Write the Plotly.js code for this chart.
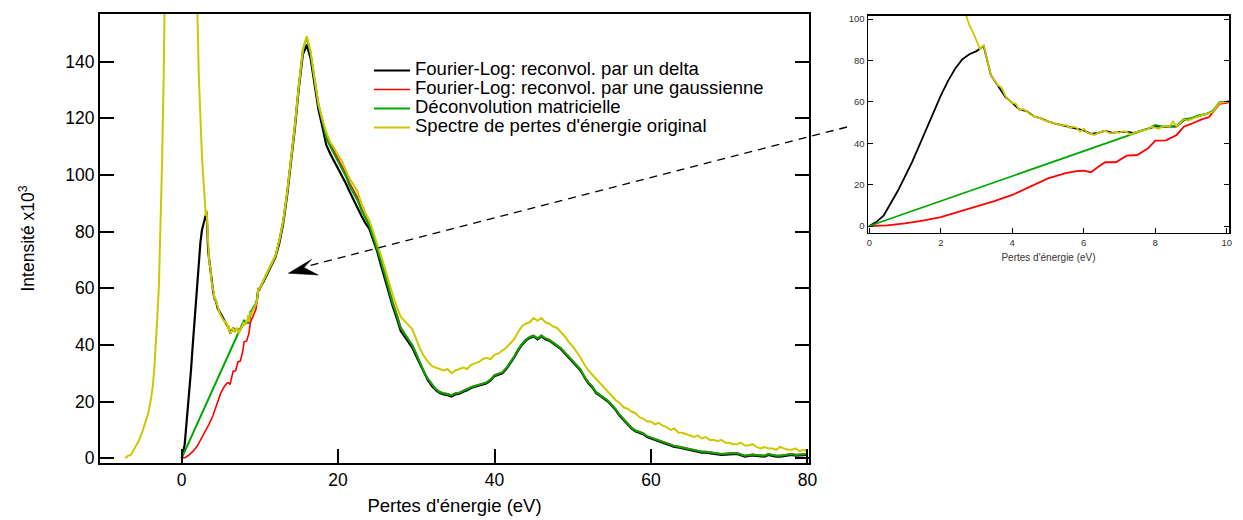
<!DOCTYPE html>
<html>
<head>
<meta charset="utf-8">
<script src="https://cdn.plot.ly/plotly-3.0.1.min.js"></script>
<style>
  html, body { margin: 0; padding: 0; background: #fff; }
  #chart { width: 1243px; height: 520px; }
</style>
</head>
<body>
<div id="chart"></div>
<script>
// ---------- data (energy loss in eV, intensity x10^3) ----------
const seriesNames = [
  "Fourier-Log: reconvol. par un delta",
  "Fourier-Log: reconvol. par une gaussienne",
  "Déconvolution matricielle",
  "Spectre de pertes d'énergie original"
];

// shared energy grid for 10.5 – 80 eV
const tailE = [10.5,11,11.5,12,12.5,13,13.5,14,14.5,15,
  15.5,16,16.5,17,17.5,18,18.5,19,19.5,20,
  20.5,21,21.5,22,22.5,23,23.5,24,24.5,25,
  25.5,26,26.5,27,27.5,28,28.5,29,29.5,30,
  30.5,31,31.5,32,32.5,33,33.5,34,34.5,35,
  35.5,36,36.5,37,37.5,38,38.5,39,39.5,40,
  40.5,41,41.5,42,42.5,43,43.5,44,44.5,45,
  45.5,46,46.5,47,47.5,48,48.5,49,49.5,50,
  50.5,51,51.5,52,52.5,53,53.5,54,54.5,55,
  55.5,56,56.5,57,57.5,58,58.5,59,59.5,60,
  60.5,61,61.5,62,62.5,63,63.5,64,64.5,65,
  65.5,66,66.5,67,67.5,68,68.5,69,69.5,70,
  70.5,71,71.5,72,72.5,73,73.5,74,74.5,75,
  75.5,76,76.5,77,77.5,78,78.5,79,79.5,80];

// black: Fourier-Log, delta
const deltaHeadE = [0,0.2,0.4,0.6,0.8,1,1.2,1.4,1.6,1.8,2,2.2,2.4,2.6,2.8,3,3.2,3.4,3.6,3.8,4,4.2,4.4,4.6,4.8,5,5.2,5.4,5.6,5.8,6,6.2,6.4,6.6,6.8,7,7.2,7.4,7.6,7.8,8,8.2,8.4,8.6,8.8,9,9.2,9.4,9.6,9.8,10];
const deltaHeadI = [0,2,5,11,17,24,31,39,47,55,63,70,76,80.5,83,84.5,87,73,68,62.5,59.5,56.3,55.5,53,52,50.5,49.5,48.7,48,47,46.2,44.5,45,46,45,45.5,45.5,45,46,47,48,48,48,48,51,52,53,53.8,55,59.5,60];
const deltaTailI = [62.5,65.5,68,71,76,83,93,104,117,131,
  142.5,146,141,132,123,117,110.5,107.5,105,102.5,
  100,97,94,91,88.5,85.5,83,81,77,73,
  68,63,58,53.5,49.5,45,43,41,39,36,
  33,30,27.5,25.5,24,23,22.5,22.3,21.8,22.5,
  22.8,23.5,24,24.8,25.2,25.5,26,26.5,27.5,29,
  29.5,30,31.5,33.5,35.5,38,40,41.5,42.5,43,
  42,43,42,41.5,40.5,39.5,38.5,37,35.5,34,
  32.5,31,28.5,26.5,25,23,22,21,20,18.5,
  17,15,13.5,12,10.5,9.5,9,8.5,7.5,7,
  6.5,6,5.5,5,4.5,4,3.8,3.5,3.3,3,
  2.5,2.3,2,2,1.8,1.8,1.4,1.2,1.3,1.5,
  1.5,1.5,1,0.6,0.8,1,0.8,0.8,0.6,1.2,
  0.8,0.6,0.6,0.8,1,1.2,0.9,1,1.2,1.2];

// red: Fourier-Log, gaussian
const gaussHeadE = [0,0.5,1,1.5,2,2.5,3,3.5,4,4.5,5,5.5,5.8,6,6.2,6.4,6.6,6.9,7.2,7.5,7.8,8,8.3,8.6,8.8,9,9.3,9.5,9.8,10];
const gaussHeadI = [0,0.3,1.3,2.6,4.3,6.8,9.5,12,15,19,23,25.5,26.5,26.7,26,28.5,30.8,30.8,34,34.3,37.5,41.2,41.4,44,48,49.3,51.5,52.5,59,59.5];
const gaussTailI = [63,66,68.5,71.5,77,84,94,105,118,132,
  144,148.5,143,134,125,119.5,114,111,108.5,106,
  103.5,100.5,97,94.5,92,88,85,82.5,78.5,74.5,
  70,65,60,55,51,46.5,44,42,40,37,
  33.8,30.5,28,26,24.5,23.5,23,22.8,22.3,23,
  23.2,23.9,24.4,25.2,25.6,25.9,26.4,26.9,27.9,29.4,
  29.9,30.4,31.9,33.9,35.9,38.4,40.4,41.9,42.9,43.4,
  42.4,43.4,42.4,41.9,40.9,39.9,38.9,37.4,35.9,34.4,
  32.9,31.4,28.9,26.9,25.4,23.4,22.4,21.4,20.4,18.9,
  17.4,15.4,13.9,12.4,10.9,9.9,9.4,8.9,7.9,7.4,
  6.9,6.4,5.9,5.4,4.9,4.4,4.2,3.9,3.7,3.4,
  2.9,2.7,2.4,2.4,2.2,2.2,1.8,1.6,1.7,1.9,
  1.9,1.9,1.4,1,1.2,1.4,1.2,1.2,1,1.6,
  1.2,1,1,1.2,1.4,1.6,1.3,1.4,1.6,1.6];

// green: matrix deconvolution
const matrixHeadE = [0,7.4,7.6,7.8,8,8.2,8.4,8.6,8.8,9,9.2,9.4,9.6,9.8,10];
const matrixHeadI = [0,44.8,46,47,48.8,48,48.2,48.5,51.8,52,53.5,54,55.5,59.8,60];
const matrixTailI = [62.8,66,68.5,71.5,77,84,94,105,118,132,
  144,148.5,142.5,133.5,124.5,119,113,110,107.5,105,
  102.5,99.5,96,93.5,91,87.5,84.5,82,78,74,
  69.5,64.5,59.5,54.5,50.5,46,44,41.8,39.8,36.8,
  33.6,30.4,28,26,24.4,23.4,22.9,22.7,22.2,22.9,
  23.1,23.8,24.3,25.1,25.5,25.8,26.3,26.8,27.8,29.3,
  29.8,30.3,31.8,33.8,35.8,38.3,40.3,41.8,42.8,43.3,
  42.3,43.3,42.3,41.8,40.8,39.8,38.8,37.3,35.8,34.3,
  32.8,31.3,28.8,26.8,25.3,23.3,22.3,21.3,20.3,18.8,
  17.3,15.3,13.8,12.3,10.8,9.8,9.3,8.8,7.8,7.3,
  6.8,6.3,5.8,5.3,4.8,4.3,4.1,3.8,3.6,3.3,
  2.8,2.6,2.3,2.3,2.1,2.1,1.7,1.5,1.6,1.8,
  1.8,1.8,1.3,0.9,1.1,1.3,1.1,1.1,0.9,1.5,
  1.1,0.9,0.9,1.1,1.3,1.5,1.2,1.3,1.5,1.5];

// yellow: original energy-loss spectrum (zero-loss peak goes off scale)
const origHeadE = [-7.2,-7,-6.8,-6.5,-6.2,-6,-5.5,-5,-4.6,-4.3,-4,-3.7,-3.5,-3.3,-3.1,-2.9,-2.7,-2.5,-2.3,-2.1,-1.8,-1.5,-1,0,1,1.5,1.8,2,2.2,2.4,2.6,2.7,2.8,2.9,3,3.1,3.2,3.3,3.4,3.5,3.6,3.7,3.8,3.9,4,4.1,4.2,4.3,4.4,4.5,4.6,4.7,4.8,4.9,5,5.2,5.4,5.5,5.6,5.7,5.8,5.9,6,6.1,6.2,6.3,6.4,6.5,6.6,6.7,6.8,6.9,7,7.1,7.2,7.3,7.4,7.5,7.6,7.7,7.8,7.9,8,8.1,8.2,8.3,8.4,8.5,8.6,8.7,8.8,8.9,9,9.2,9.4,9.6,9.8,10];
const origHeadI = [0,0.6,1,1.1,2.6,4,6,9.5,12.5,15.5,19.5,25,31,39,50,61,79,104,133,155,210,300,600,1000,600,300,200,160,135,118,107,102,97,93.5,89,85.5,87.5,80,73,70.5,68,67,63,61,59.5,59,56,56.5,55.5,54,53,52.5,52,51,50.5,49.5,48.5,48.8,47.5,48,47.5,45.5,47,45,44.5,44,45,45.5,46,45,44.8,45.5,45,45.8,45.5,44,45,45.5,46,46.3,46.8,48,47.5,47,48,48.5,48,50.5,48,50,51.5,51,51.5,53,54,55,59.5,60];
const origTailI = [63,66,68.5,71.5,77,84,94,105,118,132,
  144,149,143.5,134,125,119.5,115,111.5,109.5,107,
  105,101.5,98.5,96.5,94,90,86.5,84,80,76,
  71.5,67,62,57.5,53.5,50,48.5,47,45.5,42,
  38.5,36,34,32.5,32,31.5,31,31.5,30,31,
  31.5,32,31.5,33,33.5,34,35,35.5,35,36.5,
  37,38,39,40.5,42,44.5,46.5,47.5,48,49.5,
  48.5,49.5,48,47.5,46.5,46,44.5,43,41,39.5,
  37.5,35.5,33,31,29.5,28,26.5,25,23.5,22,
  20.5,19.5,18,17.5,16.5,16,14.5,14,13,13,
  12,12.5,11.5,11,10,10.5,9,9,8.5,8,
  7.5,8,7,7.5,6.5,6.5,6,6.5,5.5,5.5,
  5,5,5.5,4.5,4.5,5,4,3.5,4,3.5,
  3.5,3,4,3.5,3,3,3.5,2.5,3,2.5];

const seriesColors = ["#000000", "#ff0000", "#00a800", "#cdc800"];

const mainXTicks = [0, 20, 40, 60, 80];
const mainYTicks = [0, 20, 40, 60, 80, 100, 120, 140];
const insetXTicks = [0, 2, 4, 6, 8, 10];
const insetYTicks = [0, 20, 40, 60, 80, 100];

// ---------- figure ----------
const seriesE = [
  deltaHeadE.concat(tailE),
  gaussHeadE.concat(tailE),
  matrixHeadE.concat(tailE),
  origHeadE.concat(tailE)
];
const seriesI = [
  deltaHeadI.concat(deltaTailI),
  gaussHeadI.concat(gaussTailI),
  matrixHeadI.concat(matrixTailI),
  origHeadI.concat(origTailI)
];
const mainWidths = [2.2, 1.6, 2, 2];
const insetWidths = [1.8, 1.8, 1.8, 1.8];

const FONT = "'Liberation Sans', Arial, Helvetica, sans-serif";

const traces = [];
for (let k = 0; k < 4; k++) {
  traces.push({
    x: seriesE[k], y: seriesI[k], type: 'scatter', mode: 'lines',
    name: '<span style="font-size:18.5px">' + seriesNames[k] + '</span>',
    line: { color: seriesColors[k], width: mainWidths[k] },
    xaxis: 'x', yaxis: 'y', showlegend: true, hoverinfo: 'skip'
  });
}
for (let k = 0; k < 4; k++) {
  traces.push({
    x: seriesE[k], y: seriesI[k], type: 'scatter', mode: 'lines',
    name: seriesNames[k],
    line: { color: seriesColors[k], width: insetWidths[k] },
    xaxis: 'x2', yaxis: 'y2', showlegend: false, hoverinfo: 'skip'
  });
}

// pixel -> paper helpers for the annotation arrow (plot area 100..1229 x 14..463)
const px = v => (v - 100) / 1129;
const py = v => (463 - v) / 449;

const layout = {
  width: 1243, height: 520,
  margin: { l: 100, r: 14, t: 14, b: 57, pad: 0 },
  paper_bgcolor: '#ffffff', plot_bgcolor: '#ffffff',
  font: { family: FONT, color: '#000000', size: 17.5 },
  showlegend: true,
  legend: {
    x: px(369), y: py(56), xanchor: 'left', yanchor: 'top',
    bgcolor: 'rgba(0,0,0,0)', borderwidth: 0,
    font: { family: FONT, size: 12, color: '#000' },
    itemwidth: 36, tracegroupgap: 0
  },
  xaxis: {
    domain: [0, 0.62799], range: [-10.43, 80.2],
    tickvals: mainXTicks, ticktext: mainXTicks.map(String),
    ticks: 'inside', ticklen: 14, tickwidth: 2, tickcolor: '#000',
    showline: true, linewidth: 2, linecolor: '#000', mirror: true,
    showgrid: false, zeroline: false,
    tickfont: { family: FONT, size: 17.5, color: '#000' },
    title: { text: "Pertes d'énergie (eV)", font: { family: FONT, size: 18.5, color: '#000' }, standoff: 10 },
    anchor: 'y'
  },
  yaxis: {
    domain: [0, 1], range: [-1.66, 156.8],
    tickvals: mainYTicks, ticktext: mainYTicks.map(String),
    ticks: 'inside', ticklen: 14, tickwidth: 2, tickcolor: '#000',
    showline: true, linewidth: 2, linecolor: '#000', mirror: 'ticks',
    showgrid: false, zeroline: false,
    tickfont: { family: FONT, size: 17.5, color: '#000' },
    title: { text: 'Intensité x10<sup>3</sup>', font: { family: FONT, size: 17.5, color: '#000' }, standoff: 26 },
    anchor: 'x'
  },
  xaxis2: {
    domain: [0.68025, 1], range: [-0.036, 10.064],
    tickvals: insetXTicks, ticktext: insetXTicks.map(String),
    ticks: 'inside', ticklen: 5, tickwidth: 1, tickcolor: '#000',
    showline: true, linewidth: 1.5, linecolor: '#000', mirror: true,
    showgrid: false, zeroline: false,
    tickfont: { family: FONT, size: 9.5, color: '#333' },
    title: { text: "Pertes d'énergie (eV)", font: { family: FONT, size: 10, color: '#333' }, standoff: 7 },
    anchor: 'y2'
  },
  yaxis2: {
    domain: [0.51225, 0.99621], range: [-3.38, 101.6],
    tickvals: insetYTicks, ticktext: insetYTicks.map(String),
    ticks: 'inside', ticklen: 5, tickwidth: 1, tickcolor: '#000',
    showline: true, linewidth: 1.5, linecolor: '#000', mirror: 'ticks',
    showgrid: false, zeroline: false,
    tickfont: { family: FONT, size: 9.5, color: '#333' },
    anchor: 'x2'
  },
  shapes: [
    { type: 'line', xref: 'paper', yref: 'paper',
      x0: px(847), y0: py(127), x1: px(306), y1: py(266.5),
      line: { color: '#000', width: 1.3, dash: '8px,6px' }, layer: 'above' },
    { type: 'path', xref: 'paper', yref: 'paper',
      path: 'M ' + px(288.3) + ' ' + py(273.3) + ' L ' + px(311.7) + ' ' + py(259.3) +
            ' L ' + px(304) + ' ' + py(267.5) + ' L ' + px(318.3) + ' ' + py(275) + ' Z',
      fillcolor: '#000', line: { color: '#000', width: 0.5 }, layer: 'above' }
  ]
};

Plotly.newPlot('chart', traces, layout, { displayModeBar: false, staticPlot: true });
</script>
</body>
</html>
